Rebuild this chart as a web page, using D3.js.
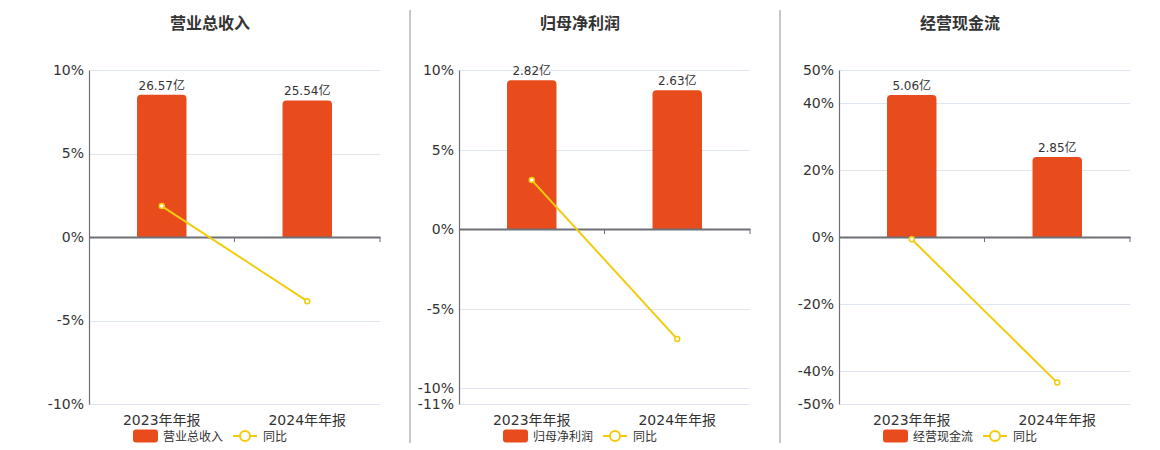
<!DOCTYPE html>
<html>
<head>
<meta charset="utf-8">
<script src="https://cdn.jsdelivr.net/npm/d3@7"></script>
<style>
  html, body { margin: 0; padding: 0; background: #fff; }
  svg { display: block; font-family: "DejaVu Sans", "Noto Sans CJK SC", sans-serif; }
</style>
</head>
<body>
<svg id="chart" width="1160" height="450"></svg>
<script>
// ---- data ----
const categories = ["2023年年报", "2024年年报"];
const titles = ["营业总收入", "归母净利润", "经营现金流"];
const barValues = [[26.57, 25.54], [2.82, 2.63], [5.06, 2.85]];
const barLabels = [["26.57亿", "25.54亿"], ["2.82亿", "2.63亿"], ["5.06亿", "2.85亿"]];
const yoyValues = [[1.85, -3.84], [3.08, -6.92], [-0.69, -43.6]];
const pctDomains = [[-10, 10], [-11, 10], [-50, 50]];
const pctTicks = [[-10, -5, 0, 5, 10], [-11, -10, -5, 0, 5, 10], [-50, -40, -20, 0, 20, 40, 50]];
const barAxisMax = [31.22, 3.015, 5.95];
const legendLine = "同比";

// ---- layout ----
const panels = [
  { left: 89, right: 380, center: 210 },
  { left: 459, right: 750, center: 580 },
  { left: 839, right: 1130, center: 960 }
];
const plotTop = 70, plotBottom = 404;
const separators = [410, 780];
const barColor = "#e84c1d";
const lineColor = "#f3cb0d";
const textColor = "#333";
const axisColor = "#6e7079";
const gridColor = "#e0e6f1";

const svg = d3.select("#chart");

separators.forEach(x => {
  svg.append("line").attr("x1", x).attr("x2", x).attr("y1", 10).attr("y2", 443)
    .attr("stroke", "#a3a39d").attr("stroke-width", 1.2);
});

panels.forEach((p, i) => {
  const g = svg.append("g");
  const x = d3.scaleBand().domain(categories).range([p.left, p.right]).padding(0);
  const y = d3.scaleLinear().domain(pctDomains[i]).range([plotBottom, plotTop]);
  const yb = d3.scaleLinear().domain([0, barAxisMax[i]]).range([y(0), plotTop]);

  // title
  g.append("text").attr("x", p.center).attr("y", 29).attr("text-anchor", "middle")
    .attr("font-size", 16).attr("font-weight", "bold").attr("fill", textColor)
    .text(titles[i]);

  // grid
  g.selectAll(".grid").data(pctTicks[i].filter(t => t !== 0)).enter().append("line")
    .attr("x1", p.left).attr("x2", p.right)
    .attr("y1", d => Math.round(y(d)) + 0.5).attr("y2", d => Math.round(y(d)) + 0.5)
    .attr("stroke", gridColor).attr("stroke-width", 1);

  // y axis
  const yAxis = d3.axisLeft(y).tickValues(pctTicks[i]).tickSize(0).tickPadding(5)
    .tickFormat(d => d + "%");
  const ya = g.append("g").attr("transform", `translate(${p.left},0)`).call(yAxis);
  ya.select(".domain").attr("stroke", axisColor).attr("stroke-width", 1.2);
  ya.selectAll("text").attr("font-size", 14).attr("fill", textColor)
    .attr("font-family", "DejaVu Sans, sans-serif");

  // bars
  const bw = x.bandwidth() * 0.34;
  const r = 4;
  g.selectAll(".bar").data(barValues[i]).enter().append("path")
    .attr("fill", barColor)
    .attr("d", (d, j) => {
      const cx = x(categories[j]) + x.bandwidth() / 2;
      const x0 = cx - bw / 2, x1 = cx + bw / 2;
      const y0 = yb(0), y1 = yb(d);
      return `M${x0},${y0}V${y1 + r}Q${x0},${y1} ${x0 + r},${y1}H${x1 - r}Q${x1},${y1} ${x1},${y1 + r}V${y0}Z`;
    });

  // bar labels
  g.selectAll(".blabel").data(barValues[i]).enter().append("text")
    .attr("x", (d, j) => x(categories[j]) + x.bandwidth() / 2)
    .attr("y", d => yb(d) - 5)
    .attr("text-anchor", "middle").attr("font-size", 12).attr("fill", textColor)
    .text((d, j) => barLabels[i][j]);

  // x axis at zero
  const xAxis = d3.axisBottom(x).tickSize(0).tickFormat(() => "");
  const xa = g.append("g").attr("transform", `translate(0,${y(0)})`).call(xAxis);
  xa.select(".domain").attr("stroke", axisColor).attr("stroke-width", 2);
  const bounds = [p.left + x.bandwidth(), p.right];
  g.selectAll(".xt").data(bounds).enter().append("line")
    .attr("x1", d => d).attr("x2", d => d)
    .attr("y1", y(0)).attr("y2", y(0) + 5)
    .attr("stroke", axisColor).attr("stroke-width", 1);

  // x category labels at bottom
  g.selectAll(".xl").data(categories).enter().append("text")
    .attr("x", d => x(d) + x.bandwidth() / 2).attr("y", 425)
    .attr("text-anchor", "middle").attr("font-size", 14).attr("fill", textColor)
    .text(d => d);

  // yoy line
  const line = d3.line()
    .x((d, j) => x(categories[j]) + x.bandwidth() / 2)
    .y(d => y(d));
  g.append("path").datum(yoyValues[i]).attr("d", line)
    .attr("fill", "none").attr("stroke", lineColor).attr("stroke-width", 2);
  g.selectAll(".pt").data(yoyValues[i]).enter().append("circle")
    .attr("cx", (d, j) => x(categories[j]) + x.bandwidth() / 2)
    .attr("cy", d => y(d)).attr("r", 2.5)
    .attr("fill", "#fff").attr("stroke", lineColor).attr("stroke-width", 1.5);

  // legend
  const lg = g.append("g");
  const item1 = lg.append("g");
  item1.append("rect").attr("x", 0).attr("y", 429.5).attr("width", 25).attr("height", 13)
    .attr("rx", 3).attr("fill", barColor);
  const t1 = item1.append("text").attr("x", 30).attr("y", 440.5).attr("font-size", 12)
    .attr("fill", textColor).text(titles[i]);
  const w1 = 30 + t1.node().getComputedTextLength();
  const item2 = lg.append("g").attr("transform", `translate(${w1 + 10},0)`);
  item2.append("line").attr("x1", 0).attr("x2", 24).attr("y1", 436).attr("y2", 436)
    .attr("stroke", lineColor).attr("stroke-width", 2);
  item2.append("circle").attr("cx", 12).attr("cy", 436).attr("r", 5)
    .attr("fill", "#fff").attr("stroke", lineColor).attr("stroke-width", 2);
  const t2 = item2.append("text").attr("x", 30).attr("y", 440.5).attr("font-size", 12)
    .attr("fill", textColor).text(legendLine);
  const total = w1 + 10 + 30 + t2.node().getComputedTextLength();
  lg.attr("transform", `translate(${p.center - total / 2},0)`);
});
</script>
</body>
</html>
